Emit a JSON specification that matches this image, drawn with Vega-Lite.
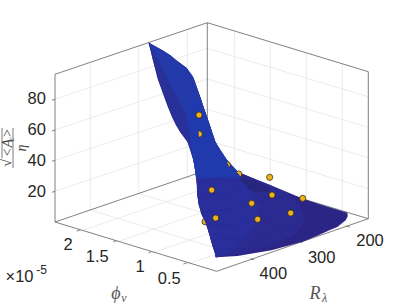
{
"$schema":"https://vega.github.io/schema/vega-lite/v6.json",
"width":407,"height":305,"padding":0,"autosize":{"type":"fit","contains":"padding"},
"background":"white","view":{"stroke":null},
"datasets":{
"grid":[
{"a":55,"b":191.3,"c":207.3,"d":140.3},{"a":55,"b":160.3,"c":207.3,"d":109.3},{"a":55,"b":130,"c":207.3,"d":79},{"a":55,"b":99.3,"c":207.3,"d":48.3},
{"a":207.3,"b":140.3,"c":368.3,"d":188.7},{"a":207.3,"b":109.3,"c":368.3,"d":157.7},{"a":207.3,"b":79,"c":368.3,"d":127.4},{"a":207.3,"b":48.3,"c":368.3,"d":96.7},
{"a":90.3,"b":210,"c":90.3,"d":62.3},{"a":138.7,"b":193.5,"c":138.7,"d":45.8},{"a":187.3,"b":177,"c":187.3,"d":29},
{"a":234.7,"b":178.3,"c":234.7,"d":31},{"a":270.3,"b":189,"c":270.3,"d":41.8},{"a":306.3,"b":200,"c":306.3,"d":52.7},{"a":342.3,"b":210.8,"c":342.3,"d":63.6},
{"a":90.3,"b":210,"c":254,"d":259.7},{"a":138.7,"b":193.5,"c":302.3,"d":242.7},{"a":187.3,"b":177,"c":349.7,"d":227},
{"a":80,"b":231.3,"c":234.7,"d":178.3},{"a":116.7,"b":242,"c":270.3,"d":189},{"a":151.7,"b":253,"c":306.3,"d":200},{"a":186.7,"b":264.3,"c":342.3,"d":210.8}],
"box":[
{"a":55,"b":74.3,"c":207.3,"d":22.7},{"a":207.3,"b":22.7,"c":368.3,"d":71.7},{"a":55,"b":74.3,"c":55,"d":222},{"a":207.3,"b":22.7,"c":207.3,"d":170},{"a":368.3,"b":71.7,"c":368.3,"d":218.7},
{"a":55,"b":222,"c":216.7,"d":271.3},{"a":216.7,"b":271.3,"c":368.3,"d":218.7},{"a":368.3,"b":218.7,"c":207.3,"d":170},{"a":207.3,"b":170,"c":55,"d":222},
{"a":52,"b":192.3,"c":55,"d":191.3},{"a":52,"b":161.3,"c":55,"d":160.3},{"a":52,"b":131,"c":55,"d":130},{"a":52,"b":100.3,"c":55,"d":99.3},
{"a":80,"b":229.9,"c":76.7,"d":231},{"a":116.7,"b":240.6,"c":113.4,"d":241.7},{"a":151.7,"b":251.6,"c":148.4,"d":252.7},{"a":186.7,"b":262.9,"c":183.4,"d":264},
{"a":254,"b":259.7,"c":250.7,"d":258.7},{"a":302.3,"b":242.7,"c":299,"d":241.7},{"a":349.7,"b":227,"c":346.4,"d":226}],
"behind":[{"u":205,"v":221.7}],
"under":[{"u":199.3,"v":134},{"u":227.3,"v":165},{"u":238.8,"v":174}],
"front":[{"u":199,"v":115},{"u":211.7,"v":190},{"u":269.7,"v":177.3},{"u":272,"v":195},{"u":251.7,"v":203.3},{"u":257.7,"v":219.3},{"u":215.7,"v":218},{"u":302.7,"v":198.3},{"u":290.7,"v":213}],
"cover":[{"v":108,"l":186,"r":195.3},{"v":122,"l":187,"r":195.3},{"v":130,"l":189,"r":198.4},{"v":138,"l":190.5,"r":199},{"v":145,"l":191,"r":205},{"v":150,"l":191.5,"r":214},{"v":160,"l":193.3,"r":224.5},{"v":164,"l":194,"r":228},{"v":168,"l":194.5,"r":229.5},{"v":171,"l":195.2,"r":235},{"v":174,"l":195.6,"r":238.8},{"v":178,"l":196,"r":241}],
"surface":[
{"s":"base","v":42.5,"l":148.5,"r":148.5},{"s":"base","v":50,"l":150.5,"r":162},{"s":"base","v":55,"l":151.7,"r":170},{"s":"base","v":60,"l":152.8,"r":176},{"s":"base","v":68,"l":155,"r":186.7},{"s":"base","v":76.7,"l":157,"r":193},{"s":"base","v":80,"l":158,"r":194.3},{"s":"base","v":92,"l":162.5,"r":198.5},{"s":"base","v":107,"l":168,"r":203.5},{"s":"base","v":117,"l":172,"r":207},{"s":"base","v":125,"l":176,"r":209.8},{"s":"base","v":132,"l":180,"r":212},{"s":"base","v":142,"l":187.5,"r":215.5},{"s":"base","v":150,"l":190.5,"r":220},{"s":"base","v":160,"l":193.3,"r":227},{"s":"base","v":165,"l":194.3,"r":231.5},{"s":"base","v":172,"l":195.5,"r":238},{"s":"base","v":180,"l":196.5,"r":257},{"s":"base","v":185.3,"l":197,"r":270.7},{"s":"base","v":192,"l":197,"r":287},{"s":"base","v":198.7,"l":197.8,"r":303},{"s":"base","v":205,"l":198.8,"r":322},{"s":"base","v":212.7,"l":200.8,"r":347.3},{"s":"base","v":216,"l":202,"r":347.8},{"s":"base","v":220.3,"l":204.5,"r":345.7},{"s":"base","v":227,"l":207,"r":337.3},{"s":"base","v":230,"l":208,"r":330},{"s":"base","v":235,"l":209.5,"r":319},{"s":"base","v":241.3,"l":211,"r":304},{"s":"base","v":246,"l":212.5,"r":287},{"s":"base","v":250.3,"l":214,"r":271.5},{"s":"base","v":253,"l":215,"r":255},{"s":"base","v":256,"l":215.5,"r":237.3},{"s":"base","v":257.3,"l":215.7,"r":216.7},
{"s":"mid","v":172,"l":195.5,"r":238},{"s":"mid","v":185.3,"l":197,"r":270.7},{"s":"mid","v":192,"l":197,"r":285},{"s":"mid","v":205,"l":198.8,"r":300},{"s":"mid","v":221.7,"l":205.5,"r":305},{"s":"mid","v":235,"l":209.5,"r":295},{"s":"mid","v":246,"l":212.5,"r":270},{"s":"mid","v":253,"l":215,"r":245},{"s":"mid","v":257.3,"l":215.7,"r":216.7},
{"s":"shadow","v":174,"l":238,"r":241},{"s":"shadow","v":180,"l":240,"r":254},{"s":"shadow","v":186,"l":245,"r":268},{"s":"shadow","v":192,"l":254,"r":270},
{"s":"low","v":172,"l":195.5,"r":236},{"s":"low","v":180,"l":196.5,"r":240},{"s":"low","v":192,"l":197,"r":252},{"s":"low","v":205,"l":198.8,"r":258},{"s":"low","v":221.7,"l":205.5,"r":258},{"s":"low","v":235,"l":209.5,"r":248},{"s":"low","v":250,"l":214,"r":234},{"s":"low","v":257.3,"l":215.7,"r":216.7},
{"s":"dark","v":42.5,"l":148.5,"r":148.5},{"s":"dark","v":68,"l":155,"r":186.7},{"s":"dark","v":92,"l":162.5,"r":198.5},{"s":"dark","v":107,"l":168,"r":203.5},{"s":"dark","v":125,"l":176,"r":209.8},{"s":"dark","v":142,"l":187.5,"r":215.5},{"s":"dark","v":160,"l":193.3,"r":227},{"s":"dark","v":172,"l":195.5,"r":238},
{"s":"blade","v":42.5,"l":148.5,"r":148.5},{"s":"blade","v":50,"l":152,"r":162},{"s":"blade","v":55,"l":155,"r":170},{"s":"blade","v":60,"l":158,"r":176},{"s":"blade","v":68,"l":162,"r":186.7},{"s":"blade","v":76.7,"l":166,"r":193},{"s":"blade","v":80,"l":168,"r":194.3},{"s":"blade","v":92,"l":174,"r":198.5},{"s":"blade","v":107,"l":182,"r":203.5},{"s":"blade","v":114,"l":186,"r":206},
{"s":"patch","v":97,"l":196.5,"r":200.5},{"s":"patch","v":105,"l":190,"r":202.8},{"s":"patch","v":114,"l":186,"r":206},{"s":"patch","v":117,"l":186.5,"r":207},{"s":"patch","v":125,"l":188,"r":209.8},{"s":"patch","v":132,"l":189.5,"r":212},{"s":"patch","v":142,"l":190.5,"r":215.5},{"s":"patch","v":150,"l":191.5,"r":220},{"s":"patch","v":160,"l":193.3,"r":227},{"s":"patch","v":165,"l":194.3,"r":231.5},{"s":"patch","v":172,"l":195.5,"r":238},{"s":"patch","v":178,"l":196,"r":242}],
"mesh":[
{"k":1,"u":214,"v":250},{"k":1,"u":250,"v":248},{"k":1,"u":285,"v":240},{"k":1,"u":320,"v":228},{"k":1,"u":343,"v":218},
{"k":2,"u":211,"v":240},{"k":2,"u":240,"v":238},{"k":2,"u":270,"v":232},{"k":2,"u":300,"v":223},{"k":2,"u":330,"v":213},
{"k":3,"u":207,"v":226},{"k":3,"u":240,"v":224},{"k":3,"u":270,"v":218},{"k":3,"u":300,"v":209},{"k":3,"u":318,"v":206},
{"k":4,"u":201,"v":212},{"k":4,"u":235,"v":208},{"k":4,"u":265,"v":200},{"k":4,"u":288,"v":196},
{"k":5,"u":198,"v":198},{"k":5,"u":230,"v":192},{"k":5,"u":255,"v":186},
{"k":6,"u":197,"v":183},{"k":6,"u":220,"v":178},{"k":6,"u":240,"v":176}],
"ticks":[{"t":"80","u":36.7,"v":99},{"t":"60","u":36.7,"v":130},{"t":"40","u":36.7,"v":160.5},{"t":"20","u":36.7,"v":191.5},{"t":"2","u":68,"v":245.3},{"t":"1.5","u":97.3,"v":257},{"t":"1","u":140,"v":267},{"t":"0.5","u":169.3,"v":278.7},{"t":"200","u":370,"v":241.3},{"t":"300","u":321.7,"v":257.7},{"t":"400","u":273.3,"v":274.3},{"t":"×10","u":19.5,"v":277}],
"exp":[{"t":"-5","u":41.5,"v":270}],
"bigMath":[{"t":"ϕ","u":116,"v":294},{"t":"R","u":315,"v":293.5}],
"subMath":[{"t":"v","u":124,"v":297.5},{"t":"λ","u":324.5,"v":297.5}],
"yBar":[{"a":13,"b":128,"c":13,"d":168},{"a":2,"b":128,"c":2,"d":158}],
"yBig":[{"t":"√","u":7,"v":163},{"t":"<A","u":7.5,"v":148},{"t":">","u":7.5,"v":133},{"t":"η","u":22,"v":148}],
"ySub":[{"t":"c","u":10.5,"v":139.5}]
},
"encoding":{
"x":{"type":"quantitative","scale":{"domain":[0,407],"nice":false,"zero":false},"axis":null},
"y":{"type":"quantitative","scale":{"domain":[305,0],"nice":false,"zero":false},"axis":null}
},
"layer":[
{"data":{"name":"grid"},"mark":{"type":"rule","color":"#e6e6e6","strokeWidth":0.8},"encoding":{"x":{"field":"a","type":"quantitative"},"y":{"field":"b","type":"quantitative"},"x2":{"field":"c"},"y2":{"field":"d"}}},
{"data":{"name":"box"},"mark":{"type":"rule","color":"#737373","strokeWidth":0.9},"encoding":{"x":{"field":"a","type":"quantitative"},"y":{"field":"b","type":"quantitative"},"x2":{"field":"c"},"y2":{"field":"d"}}},
{"data":{"name":"behind"},"mark":{"type":"point","filled":true,"fill":"#edb120","stroke":"#2a2208","strokeWidth":0.7,"opacity":1,"size":38},"encoding":{"x":{"field":"u","type":"quantitative"},"y":{"field":"v","type":"quantitative"}}},
{"data":{"name":"surface"},"mark":{"type":"area","orient":"horizontal"},"encoding":{"y":{"field":"v","type":"quantitative"},"x":{"field":"l","type":"quantitative"},"x2":{"field":"r"},"color":{"field":"s","type":"nominal","legend":null,"scale":{"domain":["base","mid","shadow","low","dark","blade","patch"],"range":["#2b2586","#2b2a91","#26267e","#2a2e9c","#293098","#2338a9","#2039ac"]}}}},
{"data":{"name":"under"},"mark":{"type":"point","filled":true,"fill":"#edb120","stroke":"#2a2208","strokeWidth":0.7,"opacity":1,"size":38},"encoding":{"x":{"field":"u","type":"quantitative"},"y":{"field":"v","type":"quantitative"}}},
{"data":{"name":"cover"},"mark":{"type":"area","orient":"horizontal","color":"#2039ac"},"encoding":{"y":{"field":"v","type":"quantitative"},"x":{"field":"l","type":"quantitative"},"x2":{"field":"r"}}},
{"data":{"name":"mesh"},"mark":{"type":"line","interpolate":"monotone","color":"#1b1a6c","opacity":0.22,"strokeWidth":0.7},"encoding":{"x":{"field":"u","type":"quantitative"},"y":{"field":"v","type":"quantitative","sort":null},"detail":{"field":"k"}}},
{"data":{"name":"front"},"mark":{"type":"point","filled":true,"fill":"#edb120","stroke":"#2a2208","strokeWidth":0.7,"opacity":1,"size":38},"encoding":{"x":{"field":"u","type":"quantitative"},"y":{"field":"v","type":"quantitative"}}},
{"data":{"name":"yBar"},"mark":{"type":"rule","color":"#444444","strokeWidth":0.7},"encoding":{"x":{"field":"a","type":"quantitative"},"y":{"field":"b","type":"quantitative"},"x2":{"field":"c"},"y2":{"field":"d"}}},
{"data":{"name":"ticks"},"mark":{"type":"text","font":"Liberation Sans","fontSize":16.5,"color":"#262626","align":"center","baseline":"middle"},"encoding":{"x":{"field":"u","type":"quantitative"},"y":{"field":"v","type":"quantitative"},"text":{"field":"t"}}},
{"data":{"name":"exp"},"mark":{"type":"text","font":"Liberation Sans","fontSize":12,"color":"#262626","align":"center","baseline":"middle"},"encoding":{"x":{"field":"u","type":"quantitative"},"y":{"field":"v","type":"quantitative"},"text":{"field":"t"}}},
{"data":{"name":"bigMath"},"mark":{"type":"text","font":"Liberation Serif","fontStyle":"italic","fontSize":18,"color":"#555555","align":"center","baseline":"middle"},"encoding":{"x":{"field":"u","type":"quantitative"},"y":{"field":"v","type":"quantitative"},"text":{"field":"t"}}},
{"data":{"name":"subMath"},"mark":{"type":"text","font":"Liberation Serif","fontStyle":"italic","fontSize":12,"color":"#555555","align":"center","baseline":"middle"},"encoding":{"x":{"field":"u","type":"quantitative"},"y":{"field":"v","type":"quantitative"},"text":{"field":"t"}}},
{"data":{"name":"yBig"},"mark":{"type":"text","font":"Liberation Serif","fontStyle":"italic","fontSize":14,"color":"#444444","align":"center","baseline":"middle","angle":270},"encoding":{"x":{"field":"u","type":"quantitative"},"y":{"field":"v","type":"quantitative"},"text":{"field":"t"}}},
{"data":{"name":"ySub"},"mark":{"type":"text","font":"Liberation Serif","fontStyle":"italic","fontSize":9,"color":"#444444","align":"center","baseline":"middle","angle":270},"encoding":{"x":{"field":"u","type":"quantitative"},"y":{"field":"v","type":"quantitative"},"text":{"field":"t"}}}
]
}
